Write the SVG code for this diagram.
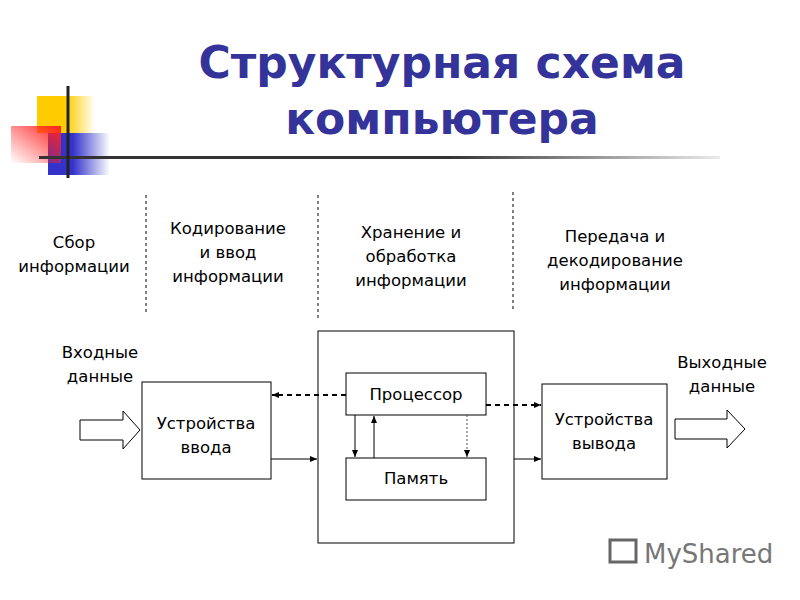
<svg xmlns="http://www.w3.org/2000/svg" width="800" height="600" viewBox="0 0 800 600">
<defs>
<linearGradient id="gy" x1="0" x2="1"><stop offset="0.5" stop-color="#ffcc00"/><stop offset="1" stop-color="#ffcc00" stop-opacity="0"/></linearGradient>
<linearGradient id="gb" x1="0" x2="1"><stop offset="0.4" stop-color="#3333cc"/><stop offset="1" stop-color="#3333cc" stop-opacity="0"/></linearGradient>
<linearGradient id="gr" x1="1" x2="0" y1="0" y2="1"><stop offset="0" stop-color="#ff2222"/><stop offset="1" stop-color="#ff2222" stop-opacity="0"/></linearGradient>
<linearGradient id="gl" gradientUnits="userSpaceOnUse" x1="39" y1="0" x2="720" y2="0"><stop offset="0.6" stop-color="#333"/><stop offset="1" stop-color="#333" stop-opacity="0.1"/></linearGradient>
<marker id="ah" markerWidth="8" markerHeight="8" refX="7" refY="4" orient="auto" markerUnits="userSpaceOnUse"><path d="M0,1 L7,4 L0,7 z" fill="#000"/></marker>
</defs>
<style>
.t{font-family:"DejaVu Sans",Verdana,sans-serif;font-size:16.5px;fill:#000;text-anchor:middle}
.b{fill:#fff;stroke:#000;stroke-width:1}
.d{stroke:#000;stroke-width:1;stroke-dasharray:3,3}
.c{stroke:#000;stroke-width:1;fill:none}
</style>
<rect width="800" height="600" fill="#fff"/>
<g id="decor">
<rect x="37" y="96" width="58" height="37" fill="url(#gy)"/>
<rect x="48" y="133" width="62" height="42" fill="url(#gb)"/>
<rect x="11" y="126" width="50" height="37" fill="url(#gr)"/>
<rect x="39" y="156" width="681" height="3" fill="url(#gl)"/>
<line x1="68" y1="86" x2="68" y2="178" stroke="#222" stroke-width="3"/>
</g>
<text x="442" y="78" font-family="DejaVu Sans,Verdana,sans-serif" font-weight="bold" font-size="44" fill="#333399" text-anchor="middle">Структурная схема</text>
<text x="442" y="134" font-family="DejaVu Sans,Verdana,sans-serif" font-weight="bold" font-size="44" fill="#333399" text-anchor="middle">компьютера</text>
<g id="stages">
<text class="t" x="74" y="248">Сбор</text><text class="t" x="74" y="272">информации</text>
<text class="t" x="228" y="234">Кодирование</text><text class="t" x="228" y="258">и ввод</text><text class="t" x="228" y="282">информации</text>
<text class="t" x="411" y="238">Хранение и</text><text class="t" x="411" y="262">обработка</text><text class="t" x="411" y="286">информации</text>
<text class="t" x="615" y="242">Передача и</text><text class="t" x="615" y="266">декодирование</text><text class="t" x="615" y="290">информации</text>
<line class="d" x1="146" y1="195" x2="146" y2="312"/>
<line class="d" x1="318" y1="195" x2="318" y2="318"/>
<line class="d" x1="513" y1="192" x2="513" y2="310"/>
</g>
<g id="input-label"><text class="t" x="100" y="358">Входные</text><text class="t" x="100" y="382">данные</text></g>
<g id="output-label"><text class="t" x="722" y="368">Выходные</text><text class="t" x="722" y="392">данные</text></g>
<g id="input-arrow"><path d="M80,420 H123 V411 L140,430 L123,449 V440 H80 Z" fill="#fff" stroke="#000"/></g>
<g id="output-arrow"><path d="M675,419 H727 V410 L745,429 L727,448 V439 H675 Z" fill="#fff" stroke="#000"/></g>
<g id="computer"><rect class="b" x="318" y="331" width="196" height="212"/></g>
<g id="input-device"><rect class="b" x="142" y="382" width="129" height="97"/><text class="t" x="206" y="429">Устройства</text><text class="t" x="206" y="453">ввода</text></g>
<g id="output-device"><rect class="b" x="542" y="384" width="125" height="95"/><text class="t" x="604" y="425">Устройства</text><text class="t" x="604" y="449">вывода</text></g>
<g id="processor"><rect class="b" x="346" y="373" width="140" height="42"/><text class="t" x="416" y="400">Процессор</text></g>
<g id="memory"><rect class="b" x="346" y="458" width="140" height="42"/><text class="t" x="416" y="484">Память</text></g>
<g id="connectors">
<line x1="346" y1="395" x2="272" y2="395" stroke="#000" stroke-width="2" stroke-dasharray="5,4" marker-end="url(#ah)"/>
<line x1="486" y1="405" x2="541" y2="405" stroke="#000" stroke-width="2" stroke-dasharray="5,4" marker-end="url(#ah)"/>
<line class="c" x1="271" y1="459" x2="317" y2="459" marker-end="url(#ah)"/>
<line class="c" x1="514" y1="459" x2="541" y2="459" marker-end="url(#ah)"/>
<line class="c" x1="355" y1="415" x2="355" y2="457" marker-end="url(#ah)"/>
<line class="c" x1="374" y1="458" x2="374" y2="416" marker-end="url(#ah)"/>
<line x1="467" y1="415" x2="467" y2="457" stroke="#555" stroke-dasharray="2,2" marker-end="url(#ah)"/>
</g>
<g id="watermark"><rect x="610" y="540" width="26" height="22" fill="none" stroke="#666" stroke-width="3"/><text x="644" y="563" font-family="DejaVu Sans,sans-serif" font-size="26" fill="#777">MyShared</text></g>
</svg>
